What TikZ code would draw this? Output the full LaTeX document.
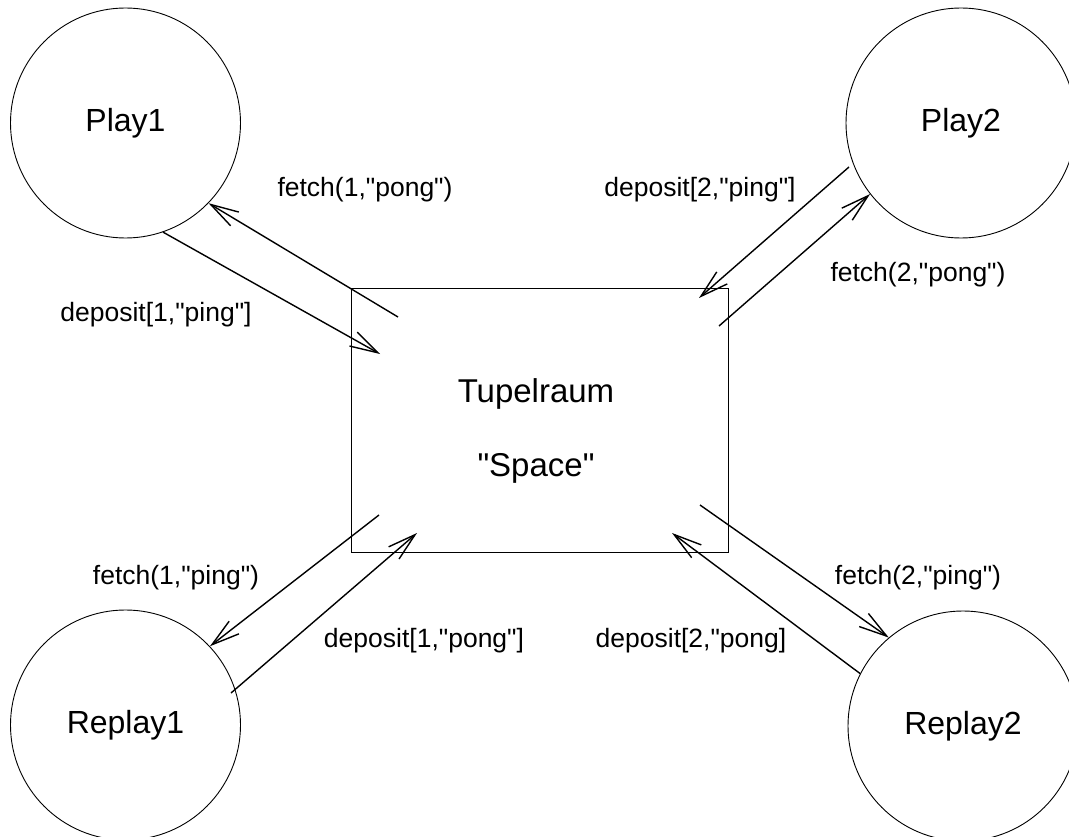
\documentclass[tikz,border=0pt]{standalone}
\usepackage{fontspec}
\setmainfont{Liberation Sans}[Ligatures=TeXOff]
\usetikzlibrary{arrows.meta}
\tikzset{
  proc/.style={draw, circle, minimum size=230pt, inner sep=0pt, line width=0.9pt, font=\fontsize{32}{38}\selectfont},
  space/.style={draw, rectangle, minimum width=377pt, minimum height=263pt, inner sep=0pt, line width=1pt},
  bigtxt/.style={anchor=base, inner sep=0pt, font=\fontsize{33}{38}\selectfont},
  lbl/.style={anchor=base, inner sep=0pt, font=\fontsize{26.5}{30}\selectfont},
  msg/.style={line width=1.4pt, -{Straight Barb[length=28pt,width=16pt,line width=1.4pt]}}
}
\begin{document}
\begin{tikzpicture}[x=1pt,y=-1pt]
\useasboundingbox (0,0) rectangle (1069,837);
% nodes
\node[proc] (play1) at (125.5,123) {Play1};
\node[proc] (play2) at (961,123) {Play2};
\node[proc] (replay1) at (125.5,725) {Replay1};
\node[proc] (replay2) at (963,726) {Replay2};
\node[space] (space) at (539.5,420.5) {};
\node[bigtxt] (tup) at (536,402) {Tupelraum};
\node[bigtxt] (spc) at (536,476) {"Space"};
% free ends
\coordinate (s1) at (398,317);
\coordinate (e2) at (380,354);
\coordinate (s3) at (849,167);
\coordinate (e3) at (699,298);
\coordinate (s4) at (719,326);
\coordinate (s5) at (379,515);
\coordinate (s6) at (231,693);
\coordinate (e6) at (417,533);
\coordinate (s7) at (700,505);
\coordinate (e8) at (672,533);
% connectors
\draw[msg] (s1) -- (play1.-44);
\draw[msg] (play1.-71) -- (e2);
\draw[msg] (s3) -- (e3);
\draw[msg] (s4) -- (play2.-142.3);
\draw[msg] (s5) -- (replay1.43);
\draw[msg] (s6) -- (e6);
\draw[msg] (s7) -- (replay2.130.5);
\draw[msg] (replay2.153) -- (e8);
% labels
\node[lbl] (l1) at (365,197) {fetch(1,"pong")};
\node[lbl] (l2) at (156,321) {deposit[1,"ping"]};
\node[lbl] (l3) at (700,197) {deposit[2,"ping"]};
\node[lbl] (l4) at (918,282) {fetch(2,"pong")};
\node[lbl] (l5) at (176,584) {fetch(1,"ping")};
\node[lbl] (l6) at (424,647) {deposit[1,"pong"]};
\node[lbl] (l7) at (691,647) {deposit[2,"pong]};
\node[lbl] (l8) at (918,584) {fetch(2,"ping")};
\end{tikzpicture}
\end{document}
